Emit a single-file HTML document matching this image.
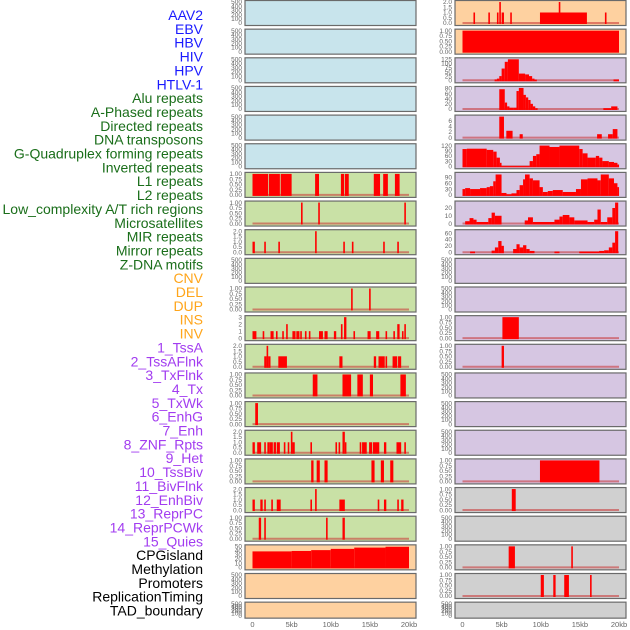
<!DOCTYPE html>
<html><head><meta charset="utf-8">
<style>
body{margin:0;background:#fff;width:630px;height:630px;overflow:hidden}
svg{display:block}
.lab{font-family:"Liberation Sans",sans-serif;font-size:14px;text-anchor:end}
.tk{font-family:"Liberation Sans",sans-serif;font-size:6.5px;fill:#666;text-anchor:end}
.xt{font-family:"Liberation Sans",sans-serif;font-size:7.5px;fill:#666;text-anchor:middle}
</style></head>
<body>
<svg id="chart" width="630" height="630"></svg>
<script>
// Track labels and colours
const labels = ["AAV2","EBV","HBV","HIV","HPV","HTLV-1","Alu repeats","A-Phased repeats","Directed repeats","DNA transposons","G-Quadruplex forming repeats","Inverted repeats","L1 repeats","L2 repeats","Low_complexity A/T rich regions","Microsatellites","MIR repeats","Mirror repeats","Z-DNA motifs","CNV","DEL","DUP","INS","INV","1_TssA","2_TssAFlnk","3_TxFlnk","4_Tx","5_TxWk","6_EnhG","7_Enh","8_ZNF_Rpts","9_Het","10_TssBiv","11_BivFlnk","12_EnhBiv","13_ReprPC","14_ReprPCWk","15_Quies","CPGisland","Methylation","Promoters","ReplicationTiming","TAD_boundary"].slice(0,0);
const labelTexts = ["AAV2","EBV","HBV","HIV","HPV","HTLV-1","Alu repeats","A-Phased repeats","Directed repeats","DNA transposons","G-Quadruplex forming repeats","Inverted repeats","L1 repeats","L2 repeats","Low_complexity A/T rich regions","Microsatellites","MIR repeats","Mirror repeats","Z-DNA motifs","CNV","DEL","DUP","INS","INV","1_TssA","2_TssAFlnk","3_TxFlnk","4_Tx","5_TxWk","6_EnhG","7_Enh","8_ZNF_Rpts","9_Het","10_TssBiv","11_BivFlnk","12_EnhBiv","13_ReprPC","14_ReprPCWk","15_Quies","CPGisland","Methylation","Promoters","ReplicationTiming","TAD_boundary"];
const labelGroups = [6,13,5,15,5];
const groupColors = ["#1a1aff","#1a6e1a","#ffa51a","#a23cf0","#000000"];

// x-axis
const xTicks = [0,5,10,15,20];
const xTickLabels = ["0","5kb","10kb","15kb","20kb"];

// tick label sets
const tEmpty = ["0","100","200","300","400","500"], vEmpty=[0,100,200,300,400,500];
const t1 = ["0.00","0.25","0.50","0.75","1.00"], v1=[0,0.25,0.5,0.75,1];
const t2 = ["0.0","0.5","1.0","1.5","2.0"], v2=[0,0.5,1,1.5,2];
const t3 = ["0","1","2","3"], v3=[0,1,2,3];

// segments: [startKb, endKb, value]
const L06=[[0,2.0,1],[2.1,3.5,1],[3.6,5.0,1],[8.0,8.5,1],[11.3,11.7,1],[11.8,12.3,1],[15.5,16.3,1],[16.7,17.3,1],[18.2,18.8,1]];
const L07=[[6.2,6.4,1],[8.4,8.6,1],[19.4,19.6,1]];
const L08=[[0,0.3,1],[1.5,1.7,1],[3.3,3.5,1],[8.0,8.2,2],[11.6,11.8,1],[12.7,12.9,1],[16.7,16.9,1],[18.5,18.7,1]];
const L10=[[12.6,12.8,1],[14.9,15.1,1]];
const L11=[[0,0.5,1],[1.3,1.5,1],[2.3,2.7,1],[3.0,3.2,1],[3.8,4.0,1],[4.3,4.5,2],[5.1,5.5,1],[5.6,6.0,1],[6.1,6.3,1],[6.7,6.9,1],[7.2,7.4,1],[8.5,9.0,1],[9.2,9.6,1],[10.4,10.7,1],[11.3,11.5,2],[11.7,12.0,3],[12.9,13.1,1],[14.7,15.1,1],[15.8,16.2,1],[17.0,17.2,1],[18.0,18.2,1],[18.5,18.8,2],[19.1,19.3,1],[19.4,19.6,2]];
const L12=[[1.5,1.8,1],[1.8,2.0,2],[2.0,2.3,1],[3.3,4.4,1],[11.1,11.5,1],[15.5,15.8,1],[16.1,16.9,1],[17.0,17.2,1],[17.9,18.5,1],[18.6,19.0,1]];
const L13=[[7.7,8.3,1],[11.5,12.6,1],[13.4,14.1,1],[15.0,15.4,1],[18.9,19.6,1]];
const L14=[[0.35,0.7,1]];
const L15=[[0,0.3,1],[0.6,1.1,1],[1.5,1.7,1],[1.9,2.2,1],[2.2,2.6,1],[2.7,3.0,1],[3.1,3.5,1],[4.0,4.2,1],[4.5,4.7,1],[4.9,5.1,2],[5.1,5.4,1],[7.4,7.6,1],[10.6,10.8,1],[11.0,11.2,1],[11.5,11.8,2],[11.8,12.0,1],[13.7,13.9,1],[14.0,14.6,1],[14.9,15.3,1],[15.4,16.2,1],[16.8,17.1,1],[18.4,19.0,1],[19.4,19.6,1]];
const L16=[[7.5,7.8,1],[8.2,8.6,1],[9.2,9.6,1],[15.2,15.6,1],[16.4,16.8,1],[17.6,18.0,1]];
const L17=[[0,0.3,1],[1.0,1.3,1],[1.5,1.7,1],[2.4,2.6,1],[3.1,3.6,1],[7.4,7.6,1],[8.0,8.2,2],[11.1,11.8,1],[16.0,16.2,1],[16.8,17.1,1],[18.5,18.7,1],[19.0,19.3,1]];
const L18=[[0.8,1.1,1],[1.5,1.7,1],[9.4,9.6,1],[11.5,11.8,1]];
const L19=[[0,5,38],[5,7.5,39],[7.5,10,41],[10,13,44],[13,17,47],[17,20,49]];

const R00=[[1.4,1.6,1],[3.3,3.5,1],[4.4,4.6,1],[4.7,4.9,2],[5.0,5.3,1],[6.1,6.3,1],[9.9,15.9,1],[12.3,12.45,2],[18.2,18.4,1]];
const R01=[[0,20,1]];
const R02=[[4.1,4.4,5],[4.4,4.7,10],[4.7,5.0,25],[5.0,5.4,70],[5.4,5.8,110],[5.8,7.2,125],[7.2,8.0,40],[8.0,8.5,35],[8.5,8.9,25],[8.9,9.2,10],[9.2,9.5,4],[19.3,20,5]];
const R03=[[4.7,5.4,77],[5.4,5.7,25],[5.7,6.0,10],[6.0,6.5,5],[6.5,6.9,5],[6.9,7.2,70],[7.2,7.8,82],[7.8,8.1,55],[8.1,8.4,45],[8.4,8.7,35],[8.7,9.0,20],[9.0,9.3,10],[9.3,9.6,3],[18.0,19.0,3],[19.0,19.8,10]];
const R04=[[4.7,5.3,7.4],[5.6,6.4,2.4],[7.3,7.7,1.2],[17.2,17.8,1.2],[18.6,19.2,1.2],[19.2,19.8,3]];
const R05=[[0,0.55,100],[0.55,3.09,102],[3.09,3.93,95],[3.93,4.36,85],[4.36,4.78,50],[4.78,4.99,20],[4.99,8.58,1],[8.58,9.0,30],[9.0,9.43,60],[9.43,9.85,70],[9.85,11.12,120],[11.12,12.39,112],[12.39,14.92,120],[14.92,15.35,100],[15.35,15.98,75],[15.98,17.04,50],[17.04,17.46,60],[17.46,17.88,50],[17.88,18.7,30],[18.7,19.36,25],[19.36,19.8,20],[19.8,20,10]];
const R06=[[0,0.34,30],[0.34,0.97,35],[0.97,2.24,30],[2.24,3.09,35],[3.09,3.5,40],[3.5,3.93,45],[3.93,4.23,70],[4.23,4.99,105],[4.99,5.62,10],[5.62,6.26,3],[6.26,6.9,8],[6.9,7.3,25],[7.3,7.74,50],[7.74,7.99,80],[7.99,8.58,105],[8.58,9.0,85],[9.0,9.85,75],[9.85,10.27,40],[10.27,10.9,15],[10.9,11.54,20],[11.54,12.81,25],[12.81,14.5,15],[14.5,15.14,30],[15.14,15.98,80],[15.98,17.25,85],[17.25,17.67,75],[17.67,18.7,105],[18.7,19.36,85],[19.36,19.8,60],[19.8,20,40]];
const R07=[[0.34,0.9,3],[0.9,1.4,7],[1.4,1.8,5],[1.8,3.3,2],[3.3,3.72,7],[3.72,4.14,14],[4.14,4.99,10],[7.95,8.37,4],[8.37,9.0,8],[9.0,11.12,2],[11.12,11.75,2],[11.75,12.39,5],[12.39,12.81,9],[12.81,13.66,11],[13.66,14.29,8],[14.29,15.98,4],[15.98,16.83,2],[16.83,17.25,5],[17.25,17.67,18],[17.67,18.5,2],[18.5,19.15,8],[19.15,19.5,20],[19.5,19.9,27]];
const R08=[[0.97,1.6,2],[3.72,4.14,5],[4.14,4.57,15],[4.57,4.99,35],[4.99,5.29,20],[6.47,6.9,10],[6.9,7.3,25],[7.3,7.74,15],[7.74,8.16,22],[8.16,8.58,10],[8.58,9.2,4],[11.75,12.39,2],[14.92,17.46,2],[17.46,18.1,4],[18.1,18.7,6],[18.7,19.15,15],[19.15,19.5,30],[19.5,19.9,66]];
const R11=[[5.1,7.2,1]];
const R12=[[5.0,5.3,1]];
const R16=[[9.9,17.5,1]];
const R17=[[6.3,6.8,1]];
const R19=[[5.9,6.7,1],[13.9,14.1,1]];
const R20=[[10.0,10.4,1],[11.6,11.9,1],[13.0,13.6,1],[16.3,16.5,1]];

const C={b:"#c8e4ec",g:"#c9e1a6",o:"#fed1a0",p:"#d6c6e2",k:"#d0d0d0"};
// rows: [leftColor,leftData,leftTickVals,leftTickLabels,leftTop, rightColor,rightData,rightTickVals,rightTickLabels,rightTop]
const E=[null,vEmpty,tEmpty,500];
const rows=[
 [C.b,...E, C.o,R00,v2,t2,2],
 [C.b,...E, C.o,R01,v1,t1,1],
 [C.b,...E, C.p,R02,[0,25,50,75,100,125],["0","25","50","75","100","125"],125],
 [C.b,...E, C.p,R03,[0,20,40,60,80],["0","20","40","60","80"],82],
 [C.b,...E, C.p,R04,[0,2,4,6],["0","2","4","6"],7.4],
 [C.b,...E, C.p,R05,[0,30,60,90,120],["0","30","60","90","120"],122],
 [C.g,L06,v1,t1,1, C.p,R06,[0,30,60,90],["0","30","60","90"],108],
 [C.g,L07,v1,t1,1, C.p,R07,[0,10,20],["0","10","20"],27],
 [C.g,L08,v2,t2,2, C.p,R08,[0,20,40,60],["0","20","40","60"],66],
 [C.g,...E, C.p,...E],
 [C.g,L10,v1,t1,1, C.p,...E],
 [C.g,L11,v3,t3,3, C.p,R11,v1,t1,1],
 [C.g,L12,v2,t2,2, C.p,R12,v1,t1,1],
 [C.g,L13,v1,t1,1, C.p,...E],
 [C.g,L14,v1,t1,1, C.p,...E],
 [C.g,L15,v2,t2,2, C.p,...E],
 [C.g,L16,v1,t1,1, C.p,R16,v1,t1,1],
 [C.g,L17,v2,t2,2, C.k,R17,v1,t1,1],
 [C.g,L18,v1,t1,1, C.k,...E],
 [C.o,L19,[0,10,20,30,40,50],["0","10","20","30","40","50"],50, C.k,R19,v1,t1,1],
 [C.o,...E, C.k,R20,v1,t1,1],
 [C.o,...E, C.k,...E]
];

const NS="http://www.w3.org/2000/svg";
const svg=document.getElementById('chart');
function mk(tag,attrs,parent){const e=document.createElementNS(NS,tag);for(const k in attrs)e.setAttribute(k,attrs[k]);(parent||svg).appendChild(e);return e;}

// labels
let li=0;
labelGroups.forEach((n,g)=>{for(let j=0;j<n;j++){
  const t=mk('text',{x:203,y:15+li*13.85+5,class:'lab',fill:groupColors[g]});
  t.textContent=labelTexts[li];
  
  
  li++;}});

const cols=[{x0:245,x1:416,k0:252.5,k20:409},{x0:455,x1:626,k0:462.5,k20:619}];
function xs(col,kb){return col.k0+(col.k20-col.k0)*kb/20;}

rows.forEach((r,i)=>{
  const top=0.5+i*28.65, h=(i===rows.length-1)?16:25;
  [0,1].forEach(s=>{
    const col=cols[s], o=s*5;
    const color=r[o],data=r[o+1],tv=r[o+2],tl=r[o+3],ymax=r[o+4];
    const g=mk('g',{});
    
    
    const base=top+h-2.5, ptop=top+1.5;
    const ys=v=>base-(base-ptop)*v/ymax;
    const bg=mk('rect',{x:col.x0,y:top,width:col.x1-col.x0,height:h,fill:color,stroke:'#6a6a6a','stroke-width':1.2},g);
    
    
    tv.forEach((v,k)=>{
      const t=mk('text',{x:col.x0-3,y:ys(v)+2.2,class:'tk'},g);
      t.textContent=tl[k];
      
      
    });
    if(data){
      const bl=mk('line',{x1:xs(col,0),x2:xs(col,20),y1:base,y2:base,stroke:'rgba(200,50,50,0.55)','stroke-width':2},g);
      
      
      data.forEach(d=>{
        const x=xs(col,d[0]),w=Math.max(xs(col,d[1])-x,1.6),y=ys(d[2]);
        const b=mk('rect',{x:x,y:y,width:w,height:base-y+1,fill:'#ff0000'},g);
        
        
      });
    }
  });
});

cols.forEach(col=>{
  xTicks.forEach((v,k)=>{
    const t=mk('text',{x:xs(col,v),y:627,class:'xt'});
    t.textContent=xTickLabels[k];
    
    
  });
});
</script>
</body></html>
